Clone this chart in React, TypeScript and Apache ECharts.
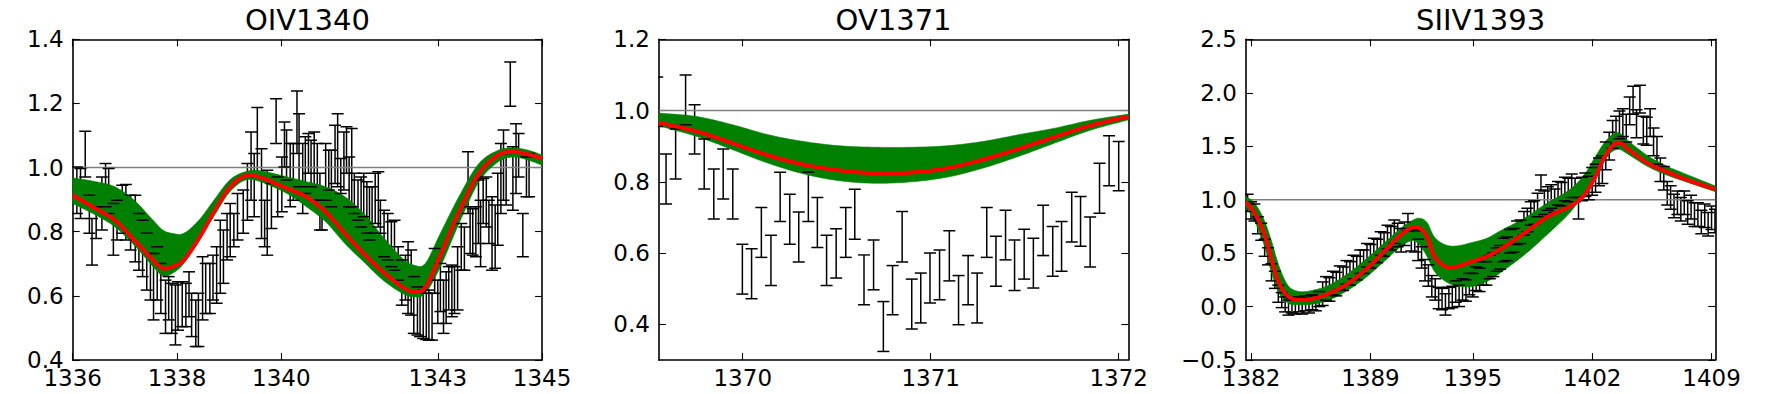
import React, { useEffect, useRef } from "react";
import * as echarts from "echarts";

// ---------- Panel 1: OIV1340 ----------
const p1Title = "OIV1340";
const p1XRange = [1336, 1345];
const p1YRange = [0.4, 1.4];
const p1XTicks = [1336, 1338, 1340, 1343, 1345];
const p1YTicks = [0.4, 0.6, 0.8, 1.0, 1.2, 1.4];
const p1X = [1336.08,1336.15,1336.24,1336.32,1336.37,1336.45,1336.56,1336.63,1336.69,1336.78,1336.85,1336.95,1337.02,1337.11,1337.2,1337.27,1337.34,1337.42,1337.49,1337.55,1337.62,1337.69,1337.78,1337.84,1337.9,1337.97,1338.02,1338.1,1338.17,1338.23,1338.28,1338.36,1338.41,1338.49,1338.55,1338.63,1338.69,1338.76,1338.83,1338.89,1338.96,1339.02,1339.09,1339.16,1339.27,1339.35,1339.42,1339.48,1339.54,1339.62,1339.68,1339.73,1339.81,1339.9,1339.93,1340.01,1340.06,1340.1,1340.17,1340.23,1340.3,1340.34,1340.41,1340.46,1340.52,1340.57,1340.63,1340.69,1340.74,1340.78,1340.85,1340.91,1340.96,1341.03,1341.08,1341.14,1341.2,1341.25,1341.3,1341.35,1341.4,1341.47,1341.53,1341.58,1341.64,1341.69,1341.74,1341.8,1341.86,1341.9,1341.97,1342.04,1342.11,1342.17,1342.24,1342.31,1342.38,1342.43,1342.49,1342.54,1342.61,1342.66,1342.72,1342.78,1342.83,1342.89,1342.94,1343.0,1343.05,1343.11,1343.16,1343.21,1343.27,1343.32,1343.38,1343.45,1343.51,1343.58,1343.62,1343.67,1343.73,1343.78,1343.82,1343.87,1343.93,1343.98,1344.04,1344.1,1344.15,1344.21,1344.26,1344.31,1344.39,1344.44,1344.5,1344.55,1344.63,1344.7,1344.75];
const p1Hi = [1.002,0.997,1.113,0.914,0.841,0.878,0.971,1.013,0.997,0.888,0.898,0.945,0.947,0.914,0.914,0.857,0.836,0.795,0.732,0.732,0.753,0.701,0.649,0.66,0.639,0.634,0.644,0.644,0.639,0.675,0.608,0.587,0.608,0.722,0.701,0.701,0.727,0.753,0.836,0.805,0.857,0.888,0.857,0.919,0.93,1.013,1.111,1.044,1.187,1.059,0.898,0.992,0.95,1.215,0.971,1.033,1.142,1.117,1.075,1.075,1.239,1.168,1.075,1.096,1.106,1.085,1.111,1.075,0.982,0.898,1.075,1.054,1.054,1.132,1.168,1.028,1.111,1.127,1.033,1.122,0.982,0.961,0.971,0.982,0.956,0.94,0.94,0.982,0.987,0.898,0.867,0.857,0.831,0.836,0.753,0.712,0.727,0.769,0.743,0.66,0.628,0.613,0.618,0.608,0.618,0.608,0.748,0.649,0.701,0.649,0.675,0.691,0.696,0.691,0.753,0.826,0.815,1.049,0.878,0.872,0.878,0.961,0.898,0.966,0.971,0.898,0.909,0.883,0.982,1.075,1.117,1.044,1.329,1.065,1.137,1.106,0.857,1.033,1.044];
const p1Lo = [0.857,0.841,0.971,0.795,0.696,0.779,0.805,0.878,0.857,0.727,0.774,0.795,0.774,0.743,0.706,0.68,0.66,0.618,0.587,0.525,0.587,0.545,0.483,0.525,0.483,0.447,0.493,0.504,0.504,0.535,0.473,0.442,0.442,0.525,0.545,0.545,0.587,0.577,0.608,0.639,0.712,0.722,0.753,0.774,0.795,0.836,0.898,0.847,0.971,0.779,0.753,0.727,0.81,1.075,0.847,0.862,1.002,0.961,0.878,0.898,1.044,0.94,0.857,0.919,0.982,0.94,0.898,0.898,0.805,0.805,0.898,0.93,0.878,0.95,0.94,0.919,0.93,0.982,0.878,0.878,0.857,0.836,0.815,0.847,0.795,0.774,0.795,0.826,0.815,0.795,0.722,0.712,0.691,0.68,0.649,0.571,0.587,0.545,0.54,0.483,0.478,0.473,0.467,0.464,0.462,0.462,0.608,0.514,0.551,0.483,0.514,0.556,0.535,0.545,0.556,0.68,0.68,0.857,0.732,0.727,0.722,0.763,0.691,0.826,0.815,0.763,0.68,0.686,0.758,0.857,0.898,0.883,1.191,0.867,0.919,0.971,0.722,0.909,0.909];
const p1BandX = [1336.0,1336.44,1336.81,1337.18,1337.54,1337.73,1337.91,1338.13,1338.42,1338.72,1339.01,1339.31,1339.6,1340.11,1340.48,1340.85,1341.22,1341.58,1341.95,1342.32,1342.54,1342.76,1343.05,1343.42,1343.79,1344.16,1344.45,1344.74,1345.0];
const p1BandHi = [0.968,0.956,0.94,0.898,0.836,0.805,0.795,0.795,0.836,0.901,0.961,0.987,0.99,0.971,0.956,0.94,0.909,0.857,0.784,0.717,0.696,0.701,0.795,0.914,1.013,1.054,1.061,1.054,1.039];
const p1BandLo = [0.888,0.852,0.815,0.758,0.691,0.662,0.67,0.701,0.774,0.852,0.924,0.961,0.956,0.919,0.878,0.831,0.763,0.706,0.649,0.608,0.597,0.608,0.691,0.831,0.956,1.018,1.033,1.023,1.007];
const p1Fit = [0.914,0.872,0.836,0.774,0.712,0.686,0.691,0.712,0.779,0.865,0.938,0.974,0.969,0.935,0.909,0.862,0.795,0.732,0.675,0.628,0.613,0.626,0.727,0.867,0.982,1.039,1.049,1.041,1.028];

// ---------- Panel 2: OV1371 ----------
const p2Title = "OV1371";
const p2XRange = [1369.554, 1372.051];
const p2YRange = [0.3, 1.2];
const p2XTicks = [1370, 1371, 1372];
const p2YTicks = [0.4, 0.6, 0.8, 1.0, 1.2];
const p2X = [1369.545,1369.592,1369.643,1369.696,1369.744,1369.795,1369.846,1369.896,1369.947,1369.998,1370.047,1370.099,1370.15,1370.199,1370.25,1370.298,1370.349,1370.397,1370.446,1370.497,1370.548,1370.596,1370.645,1370.696,1370.748,1370.797,1370.848,1370.899,1370.947,1370.996,1371.047,1371.099,1371.148,1371.199,1371.247,1371.298,1371.347,1371.398,1371.446,1371.497,1371.546,1371.598,1371.649,1371.696,1371.75,1371.797,1371.848,1371.898,1371.949,1372.0];
const p2Hi = [1.094,0.878,0.948,1.1,1.016,0.92,0.836,0.892,0.836,0.625,0.612,0.728,0.65,0.827,0.765,0.715,0.827,0.756,0.65,0.668,0.728,0.779,0.595,0.637,0.464,0.565,0.717,0.527,0.544,0.6,0.609,0.663,0.537,0.593,0.544,0.728,0.647,0.72,0.637,0.667,0.642,0.734,0.675,0.689,0.771,0.759,0.701,0.852,0.929,0.913];
const p2Lo = [0.955,0.738,0.808,0.96,0.878,0.78,0.696,0.752,0.696,0.485,0.472,0.588,0.509,0.689,0.625,0.575,0.689,0.616,0.509,0.53,0.588,0.639,0.455,0.497,0.324,0.427,0.575,0.387,0.404,0.46,0.469,0.522,0.399,0.455,0.404,0.588,0.507,0.581,0.495,0.527,0.502,0.593,0.535,0.549,0.631,0.619,0.561,0.712,0.789,0.775];
const p2BandX = [1369.554,1369.757,1369.947,1370.137,1370.326,1370.516,1370.706,1370.896,1371.085,1371.275,1371.465,1371.655,1371.844,1372.051];
const p2BandHi = [0.993,0.983,0.96,0.932,0.913,0.901,0.897,0.897,0.901,0.913,0.932,0.95,0.972,0.99];
const p2BandLo = [0.957,0.927,0.89,0.852,0.822,0.803,0.796,0.8,0.813,0.838,0.871,0.908,0.944,0.974];
const p2Fit = [0.966,0.941,0.908,0.874,0.848,0.832,0.824,0.826,0.838,0.862,0.892,0.925,0.957,0.983];

// ---------- Panel 3: SIIV1393 ----------
const p3Title = "SIIV1393";
const p3XRange = [1381.7, 1409.22];
const p3YRange = [-0.5, 2.5];
const p3XTicks = [1382, 1389, 1395, 1402, 1409];
const p3YTicks = [-0.5, 0, 0.5, 1.0, 1.5, 2.0, 2.5];
const p3X = [1381.8,1382.0,1382.2,1382.4,1382.6,1382.8,1383.0,1383.2,1383.4,1383.6,1383.8,1384.0,1384.2,1384.4,1384.6,1384.8,1385.0,1385.2,1385.4,1385.6,1385.8,1386.0,1386.2,1386.4,1386.6,1386.8,1387.0,1387.2,1387.4,1387.6,1387.8,1388.0,1388.2,1388.4,1388.6,1388.8,1389.0,1389.2,1389.4,1389.6,1389.8,1390.0,1390.2,1390.4,1390.6,1390.8,1391.0,1391.2,1391.4,1391.6,1391.8,1392.0,1392.2,1392.4,1392.6,1392.8,1393.0,1393.2,1393.4,1393.6,1393.8,1394.0,1394.2,1394.4,1394.6,1394.8,1395.0,1395.2,1395.4,1395.6,1395.8,1396.0,1396.2,1396.4,1396.6,1396.8,1397.0,1397.2,1397.4,1397.6,1397.8,1398.0,1398.2,1398.4,1398.6,1398.8,1399.0,1399.2,1399.4,1399.6,1399.8,1400.0,1400.2,1400.4,1400.6,1400.8,1401.0,1401.2,1401.4,1401.6,1401.8,1402.0,1402.2,1402.4,1402.6,1402.8,1403.0,1403.2,1403.4,1403.6,1403.8,1404.0,1404.2,1404.4,1404.6,1404.8,1405.0,1405.2,1405.4,1405.6,1405.8,1406.0,1406.2,1406.4,1406.6,1406.8,1407.0,1407.2,1407.4,1407.6,1407.8,1408.0,1408.2,1408.4,1408.6,1408.8,1409.0,1409.2];
const p3Y = [0.97,0.9,0.88,0.76,0.7,0.55,0.47,0.32,0.25,0.12,0.06,0.02,-0.01,0.01,0.0,0.02,0.0,0.03,0.01,0.04,0.03,0.07,0.12,0.17,0.16,0.22,0.21,0.27,0.26,0.32,0.31,0.37,0.36,0.42,0.42,0.48,0.47,0.53,0.52,0.59,0.58,0.65,0.64,0.7,0.67,0.62,0.68,0.79,0.62,0.61,0.53,0.46,0.34,0.29,0.19,0.16,0.08,0.07,0.02,0.08,0.09,0.14,0.1,0.16,0.15,0.21,0.2,0.26,0.25,0.31,0.31,0.37,0.39,0.44,0.46,0.53,0.54,0.61,0.62,0.69,0.7,0.78,0.81,0.87,0.88,0.95,1.16,0.97,1.01,1.03,0.99,1.06,1.05,1.1,1.09,1.13,1.09,0.92,1.1,1.14,1.11,1.17,1.2,1.26,1.28,1.41,1.5,1.61,1.65,1.7,1.72,1.67,1.83,1.93,1.71,1.94,1.65,1.64,1.72,1.54,1.46,1.28,1.2,1.06,1.02,0.94,0.97,0.91,0.97,0.88,0.93,0.86,0.86,0.79,0.85,0.77,0.83,0.8];
const p3Err = [0.08,0.08,0.08,0.08,0.08,0.08,0.08,0.08,0.08,0.08,0.07,0.07,0.07,0.07,0.07,0.07,0.07,0.07,0.07,0.07,0.07,0.07,0.11,0.11,0.11,0.11,0.11,0.11,0.11,0.11,0.11,0.11,0.11,0.11,0.11,0.11,0.11,0.11,0.11,0.11,0.11,0.11,0.11,0.11,0.11,0.11,0.11,0.08,0.1,0.1,0.1,0.1,0.1,0.1,0.1,0.1,0.1,0.1,0.1,0.1,0.1,0.1,0.1,0.1,0.1,0.1,0.11,0.11,0.11,0.11,0.11,0.11,0.11,0.11,0.11,0.11,0.11,0.11,0.11,0.11,0.11,0.11,0.11,0.11,0.11,0.11,0.07,0.11,0.11,0.11,0.11,0.11,0.11,0.11,0.11,0.11,0.11,0.1,0.11,0.11,0.11,0.13,0.13,0.13,0.13,0.13,0.13,0.13,0.13,0.13,0.13,0.13,0.13,0.13,0.13,0.13,0.13,0.13,0.13,0.13,0.13,0.11,0.11,0.11,0.11,0.11,0.11,0.11,0.11,0.11,0.11,0.11,0.11,0.11,0.11,0.11,0.11,0.11];
const p3BandX = [1381.69,1382.22,1382.77,1383.21,1383.65,1384.19,1384.85,1385.73,1386.61,1387.71,1388.8,1389.9,1390.78,1391.44,1391.88,1392.32,1392.76,1393.41,1394.07,1394.95,1395.83,1396.71,1398.02,1399.34,1400.66,1401.53,1402.19,1402.85,1403.51,1404.17,1405.27,1406.36,1407.46,1409.22];
const p3BandHi = [1.029,0.966,0.81,0.608,0.374,0.193,0.14,0.156,0.203,0.312,0.452,0.608,0.733,0.804,0.826,0.786,0.648,0.577,0.567,0.599,0.639,0.717,0.826,0.966,1.091,1.231,1.403,1.559,1.627,1.543,1.409,1.315,1.241,1.128];
const p3BandLo = [0.935,0.795,0.577,0.312,0.125,0.031,0.016,0.025,0.062,0.156,0.281,0.436,0.561,0.617,0.577,0.468,0.327,0.234,0.193,0.187,0.234,0.327,0.483,0.67,0.873,1.06,1.247,1.403,1.471,1.418,1.309,1.231,1.169,1.075];
const p3Fit = [0.982,0.873,0.686,0.436,0.218,0.094,0.062,0.078,0.125,0.218,0.358,0.53,0.67,0.739,0.733,0.655,0.468,0.374,0.374,0.421,0.468,0.546,0.686,0.835,0.935,1.044,1.216,1.434,1.534,1.465,1.34,1.262,1.191,1.097];

const CONTINUUM = 1.0;

// ---------- layout / style ----------
const GRID_LEFTS = [72.7, 658.9, 1245.9];
const GRID_W = 469.4;
const GRID_TOP = 39.3;
const GRID_H = 320.7;
const FONT = '"DejaVu Sans", "Bitstream Vera Sans", sans-serif';
const TICK_FONT = 23;
const TITLE_FONT = 29;
const CAP_HALF = 6;
const BAR_W = 1.5;

type Panel = {
  title: string;
  xr: number[];
  yr: number[];
  xt: number[];
  yt: number[];
  bars: number[][];
  bandX: number[];
  bandLo: number[];
  bandHi: number[];
  fit: number[];
};

const panels: Panel[] = [
  {
    title: p1Title, xr: p1XRange, yr: p1YRange, xt: p1XTicks, yt: p1YTicks,
    bars: p1X.map((x, i) => [x, p1Lo[i], p1Hi[i]]),
    bandX: p1BandX, bandLo: p1BandLo, bandHi: p1BandHi, fit: p1Fit,
  },
  {
    title: p2Title, xr: p2XRange, yr: p2YRange, xt: p2XTicks, yt: p2YTicks,
    bars: p2X.map((x, i) => [x, p2Lo[i], p2Hi[i]]),
    bandX: p2BandX, bandLo: p2BandLo, bandHi: p2BandHi, fit: p2Fit,
  },
  {
    title: p3Title, xr: p3XRange, yr: p3YRange, xt: p3XTicks, yt: p3YTicks,
    bars: p3X.map((x, i) => [x, p3Y[i] - p3Err[i], p3Y[i] + p3Err[i]]),
    bandX: p3BandX, bandLo: p3BandLo, bandHi: p3BandHi, fit: p3Fit,
  },
];

function fmtY(v: number) {
  const s = Math.abs(v).toFixed(1);
  return v < 0 ? "\u2212" + s : s;
}

// Catmull-Rom smoothing of a pixel-space polyline (drawing only)
function smoothPts(pts: number[][], seg = 10): number[][] {
  const out: number[][] = [];
  const n = pts.length;
  for (let i = 0; i < n - 1; i++) {
    const p0 = pts[Math.max(0, i - 1)];
    const p1 = pts[i];
    const p2 = pts[i + 1];
    const p3 = pts[Math.min(n - 1, i + 2)];
    for (let s = 0; s < seg; s++) {
      const t = s / seg, t2 = t * t, t3 = t2 * t;
      const f = (a: number, b: number, c: number, d: number) =>
        0.5 * (2 * b + (-a + c) * t + (2 * a - 5 * b + 4 * c - d) * t2 + (-a + 3 * b - 3 * c + d) * t3);
      out.push([f(p0[0], p1[0], p2[0], p3[0]), f(p0[1], p1[1], p2[1], p3[1])]);
    }
  }
  out.push(pts[n - 1]);
  return out;
}

function buildOption() {
  const grid: any[] = [];
  const xAxis: any[] = [];
  const yAxis: any[] = [];
  const series: any[] = [];
  const graphic: any[] = [];

  const axisLine = { show: true, onZero: false, lineStyle: { color: "#000", width: 1.6 } };
  const tickStyle = { color: "#000", width: 1.1 };
  const labelStyle = { color: "#000", fontSize: TICK_FONT, fontFamily: FONT, lineHeight: 18 };

  panels.forEach((p, k) => {
    grid.push({ left: GRID_LEFTS[k], top: GRID_TOP, width: GRID_W, height: GRID_H, containLabel: false });
    const xi = k * 2;
    const yi = k * 2;
    xAxis.push({
      type: "value", gridIndex: k, position: "bottom", min: p.xr[0], max: p.xr[1],
      axisLine, splitLine: { show: false },
      axisTick: { show: true, inside: true, length: 7, customValues: p.xt, lineStyle: tickStyle },
      axisLabel: { show: true, customValues: p.xt, margin: 9, ...labelStyle, formatter: (v: number) => String(Math.round(v)) },
    });
    xAxis.push({
      type: "value", gridIndex: k, position: "top", min: p.xr[0], max: p.xr[1],
      axisLine, splitLine: { show: false },
      axisTick: { show: true, inside: true, length: 7, customValues: p.xt, lineStyle: tickStyle },
      axisLabel: { show: false },
    });
    yAxis.push({
      type: "value", gridIndex: k, position: "left", min: p.yr[0], max: p.yr[1],
      axisLine, splitLine: { show: false },
      axisTick: { show: true, inside: true, length: 7, customValues: p.yt, lineStyle: tickStyle },
      axisLabel: { show: true, customValues: p.yt, margin: 9, ...labelStyle, formatter: (v: number) => fmtY(v) },
    });
    yAxis.push({
      type: "value", gridIndex: k, position: "right", min: p.yr[0], max: p.yr[1],
      axisLine, splitLine: { show: false },
      axisTick: { show: true, inside: true, length: 7, customValues: p.yt, lineStyle: tickStyle },
      axisLabel: { show: false },
    });

    // error bar stems (beneath the band)
    series.push({
      type: "custom", xAxisIndex: xi, yAxisIndex: yi, z: 1, clip: true, silent: true,
      data: p.bars, encode: { x: 0, y: [1, 2] },
      renderItem: (_params: any, api: any) => {
        const a = api.coord([api.value(0), api.value(1)]);
        const b = api.coord([api.value(0), api.value(2)]);
        return {
          type: "line",
          shape: { x1: a[0], y1: a[1], x2: b[0], y2: b[1] },
          style: { stroke: "#000", lineWidth: BAR_W },
        };
      },
    });
    // continuum line
    series.push({
      type: "line", xAxisIndex: xi, yAxisIndex: yi, z: 2, silent: true, symbol: "none",
      data: [[p.xr[0], CONTINUUM], [p.xr[1], CONTINUUM]],
      lineStyle: { color: "#808080", width: 1.5 },
    });
    // green band
    series.push({
      type: "custom", xAxisIndex: xi, yAxisIndex: yi, z: 3, clip: true, silent: true,
      data: p.bandX.map((x, i) => [x, p.bandLo[i], p.bandHi[i]]),
      encode: { x: 0, y: [1, 2] },
      renderItem: (params: any, api: any) => {
        if (params.dataIndex !== 0) return null;
        const up = smoothPts(p.bandX.map((x, i) => api.coord([x, p.bandHi[i]])));
        const lo = smoothPts(p.bandX.map((x, i) => api.coord([x, p.bandLo[i]])));
        const pts = up.concat(lo.reverse());
        return {
          type: "polygon",
          shape: { points: pts },
          style: { fill: "#008000", stroke: "#008000", lineWidth: 0.6 },
        };
      },
    });
    // error bar caps (above band)
    series.push({
      type: "custom", xAxisIndex: xi, yAxisIndex: yi, z: 4, clip: true, silent: true,
      data: p.bars, encode: { x: 0, y: [1, 2] },
      renderItem: (_params: any, api: any) => {
        const a = api.coord([api.value(0), api.value(1)]);
        const b = api.coord([api.value(0), api.value(2)]);
        const st = { stroke: "#000", lineWidth: BAR_W };
        return {
          type: "group",
          children: [
            { type: "line", shape: { x1: a[0] - CAP_HALF, y1: a[1], x2: a[0] + CAP_HALF, y2: a[1] }, style: st },
            { type: "line", shape: { x1: b[0] - CAP_HALF, y1: b[1], x2: b[0] + CAP_HALF, y2: b[1] }, style: st },
          ],
        };
      },
    });
    // red fit line
    series.push({
      type: "custom", xAxisIndex: xi, yAxisIndex: yi, z: 5, clip: true, silent: true,
      data: p.bandX.map((x, i) => [x, p.fit[i]]),
      encode: { x: 0, y: 1 },
      renderItem: (params: any, api: any) => {
        if (params.dataIndex !== 0) return null;
        const pts = smoothPts(p.bandX.map((x, i) => api.coord([x, p.fit[i]])));
        return {
          type: "polyline",
          shape: { points: pts },
          style: { fill: "none", stroke: "#ff0000", lineWidth: 4, lineJoin: "round" },
        };
      },
    });

    graphic.push({
      type: "text",
      x: GRID_LEFTS[k] + GRID_W / 2,
      y: 20,
      silent: true,
      style: {
        text: p.title, fill: "#000", font: `${TITLE_FONT}px ${FONT}`,
        align: "center", verticalAlign: "middle",
        textAlign: "center", textVerticalAlign: "middle",
      },
    });
  });

  return { animation: false, backgroundColor: "#fff", grid, xAxis, yAxis, series, graphic };
}

export default function App() {
  const ref = useRef<HTMLDivElement>(null);
  useEffect(() => {
    if (!ref.current) return;
    const chart = echarts.init(ref.current, null, { renderer: "svg" });
    chart.setOption(buildOption() as any);
    return () => chart.dispose();
  }, []);
  return (
    <div
      ref={ref}
      style={{ position: "absolute", left: 0, top: 0, width: 1767, height: 394, background: "#fff" }}
    />
  );
}
